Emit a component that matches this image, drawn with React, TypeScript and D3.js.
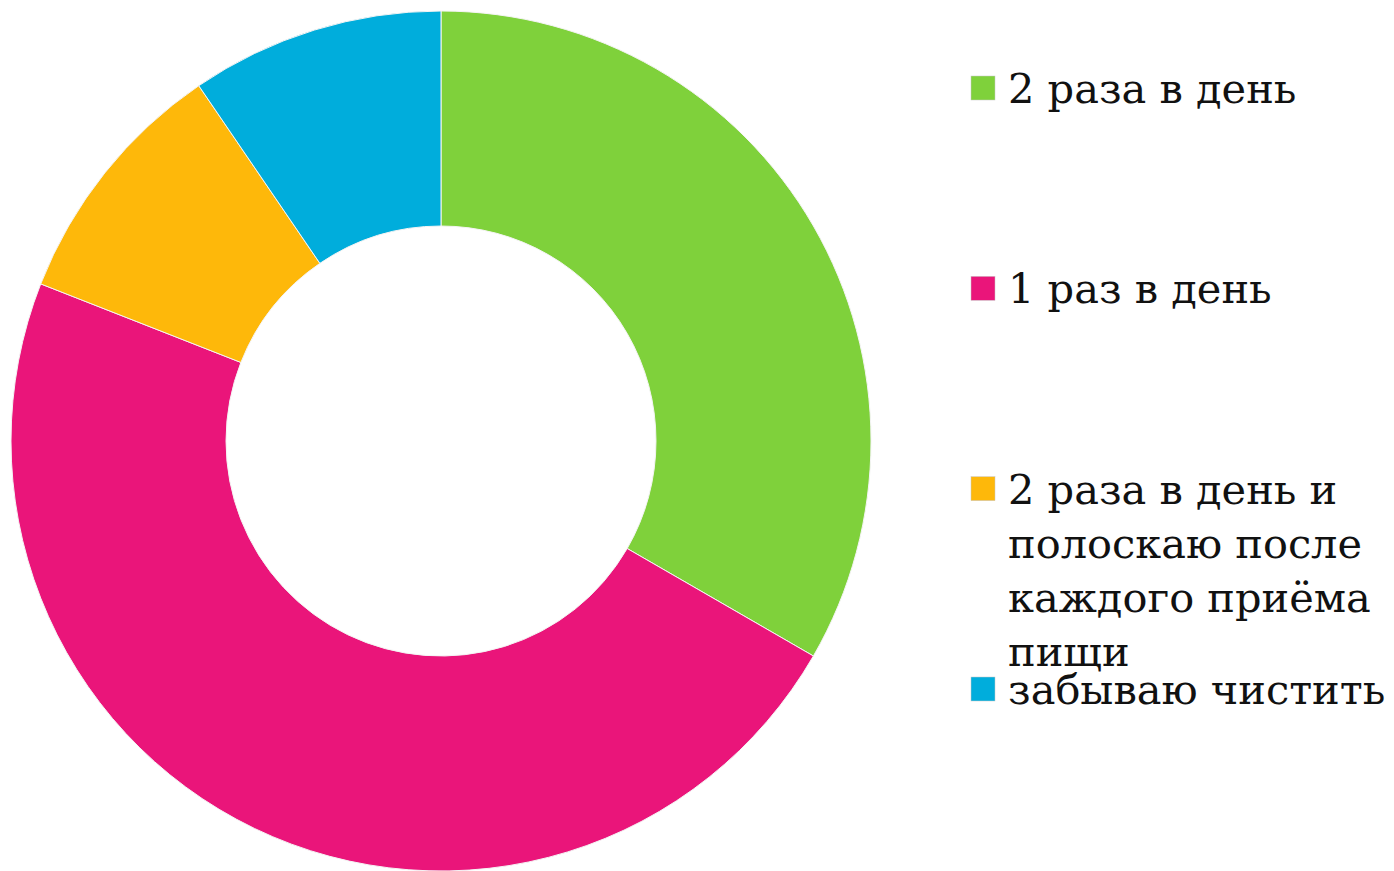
import React from "react";
import * as d3 from "d3";

const categories: string[][] = [
  ["2 раза в день"],
  ["1 раз в день"],
  ["2 раза в день и", "полоскаю после", "каждого приёма", "пищи"],
  ["забываю чистить"],
];
const values: number[] = [7, 10, 2, 2];
const colors: string[] = ["#7FD13B", "#EA157A", "#FEB80A", "#00ADDC"];

const W = 1394;
const H = 871;

export default function App() {
  const cx = 441;
  const cy = 441;
  const outerR = 430;
  const innerR = 215;
  const pie = d3.pie<number>().sort(null).value((d) => d);
  const arcs = pie(values);
  const arcGen = d3.arc<d3.PieArcDatum<number>>().innerRadius(innerR).outerRadius(outerR);

  const legendY = d3.scaleLinear().domain([0, 3]).range([88, 689]);
  const fontSize = 41.5;
  const lineH = 54;

  return (
    <svg
      width={W}
      height={H}
      style={{ position: "absolute", left: 0, top: 0, background: "#fff" }}
    >
      <g transform={`translate(${cx},${cy})`}>
        {arcs.map((a, i) => (
          <path key={i} d={arcGen(a) || ""} fill={colors[i]} stroke="#f4f4f4" strokeWidth={1} />
        ))}
      </g>
      {categories.map((lines, i) => {
        const y = legendY(i);
        return (
          <g key={i}>
            <rect x={971} y={y - 12} width={24} height={24} fill={colors[i]} stroke="#c8c8c8" strokeWidth={0.5} />
            <text
              x={1008}
              y={y + 15}
              fontFamily="'DejaVu Serif', serif"
              fontSize={fontSize}
              fill="#111"
            >
              {lines.map((l, j) => (
                <tspan key={j} x={1008} dy={j === 0 ? 0 : lineH}>
                  {l}
                </tspan>
              ))}
            </text>
          </g>
        );
      })}
    </svg>
  );
}
